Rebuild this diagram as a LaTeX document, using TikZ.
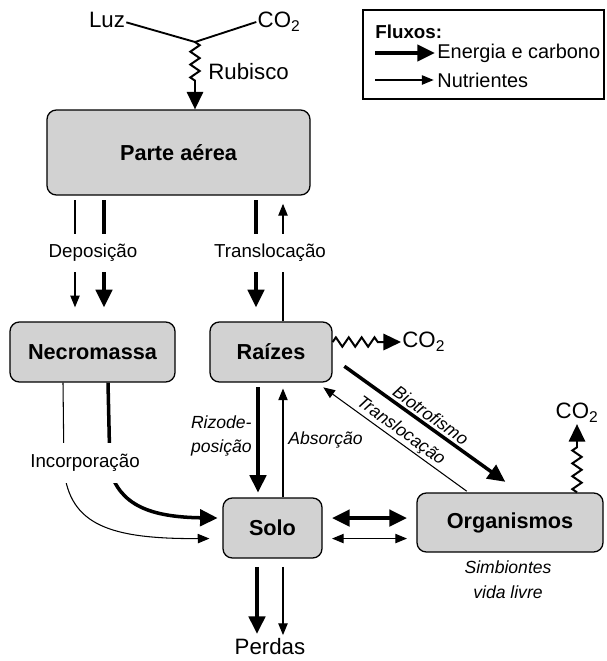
\documentclass[tikz,border=0pt]{standalone}
\usepackage{fontspec}
\setmainfont{Liberation Sans}
\usetikzlibrary{arrows.meta,decorations.pathmorphing}

\begin{document}
\begin{tikzpicture}[x=0.03cm,y=-0.03cm,
        box/.style={rectangle,draw,line width=1.1pt,rounded corners=8pt,
                    fill=gray!35,font=\fontsize{18.5}{22}\selectfont\bfseries},
        cflow/.style={line width=3pt,>={Triangle[length=15pt,width=14pt]},->},
        nflow/.style={line width=0.9pt,>={Triangle[length=10pt,width=8pt]},->},
        lbl/.style={inner sep=1pt,font=\fontsize{16}{19}\selectfont},
        big/.style={inner sep=1pt,font=\fontsize{19}{22}\selectfont},
        ilbl/.style={inner sep=1pt,align=right,font=\fontsize{15}{21}\selectfont\itshape},
        gap/.style={fill=white,inner xsep=2pt,inner ysep=9pt},
        wavy/.style={line width=1.7pt,>={Triangle[length=15pt,width=14pt]},->,
                     decorate,decoration={zigzag,segment length=11pt,amplitude=4pt,post length=19pt}}]
      \useasboundingbox (0,0) rectangle (607,661);
      %% -- compartments --------------------------------------
      \node[box,minimum width=7.89cm,minimum height=2.55cm](pa)     at(178.5,152.5){Parte aérea};
      \node[box,minimum width=4.95cm,minimum height=1.8cm] (necro)  at(92.5,352){Necromassa};
      \node[box,minimum width=3.66cm,minimum height=1.8cm] (raizes) at(271,352){Raízes};
      \node[box,minimum width=2.97cm,minimum height=1.8cm] (solo)   at(272.5,528){Solo};
      \node[box,minimum width=5.58cm,minimum height=1.77cm](org)    at(510,522.5){Organismos};
      %% -- fixation on top -----------------------------------
      \node[big](luz)  at(107,20){Luz};
      \node[big](co2a) at(279,22){CO\textsubscript{2}};
      \coordinate (fix) at (195,42);
      \draw[line width=1.6pt] ([yshift=-2pt]luz.east) -- (fix) -- (co2a.west);
      \draw[wavy] (fix) -- (pa.north -| fix);
      \node[big,anchor=west](rub) at(207,72){Rubisco};
      %% -- Parte aerea -> Necromassa / Raizes ----------------
      \draw[nflow,shorten <=4pt,shorten >=12pt] (pa.south -| 75,0) -- (necro.north -| 75,0);
      \draw[cflow,shorten <=4pt,shorten >=12pt] (pa.south -| 104,0) -- (necro.north -| 104,0);
      \draw[cflow,shorten <=4pt,shorten >=12pt] (pa.south -| 256,0) -- (raizes.north -| 256,0);
      \draw[nflow,shorten >=7pt] (raizes.north -| 283,0) -- (pa.south -| 283,0);
      \node[lbl,gap](dep) at(93,253){Deposição};
      \node[lbl,gap](tra) at(270,253){Translocação};
      %% -- Necromassa -> Solo --------------------------------
      \draw[nflow] (necro.south -| 63,0) -- (64,470)
            .. controls (70,525) and (110,539) .. ([xshift=-11pt,yshift=-9pt]solo.west);
      \draw[cflow] (necro.south -| 108,0) -- (110,470)
            .. controls (120,505) and (150,517) .. ([xshift=-4pt,yshift=8.5pt]solo.west);
      \node[lbl,gap,inner ysep=10pt](inc) at(85,463){Incorporação};
      %% -- Raizes <-> Solo -----------------------------------
      \draw[cflow,shorten <=4pt,shorten >=4pt] (raizes.south -| 258,0) -- (solo.north -| 258,0);
      \draw[nflow,shorten >=5pt] (solo.north -| 283,0) -- (raizes.south -| 283,0);
      \node[ilbl,anchor=east](rizo) at(253,436){Rizode-\\posição};
      \node[ilbl,anchor=west](abs)  at(287,440){Absorção};
      %% -- respiration ---------------------------------------
      \node[big,anchor=west](co2r) at(401,342){CO\textsubscript{2}};
      \draw[wavy] ([yshift=8.5pt]raizes.east) -- (co2r.west);
      \node[big](co2o) at(577,413){CO\textsubscript{2}};
      \draw[wavy] (org.north -| co2o) -- (co2o.south);
      %% -- Raizes <-> Organismos -----------------------------
      \draw[cflow] ([xshift=10pt,yshift=14pt]raizes.south east) -- ([xshift=-4pt,yshift=9pt]org.north)
            node[midway,sloped,above,ilbl,inner sep=2pt]{Biotrofismo};
      \draw[nflow,<-] ([xshift=-8pt,yshift=-4pt]raizes.south east) -- ([xshift=43pt,yshift=1pt]org.north west)
            node[midway,sloped,above,ilbl,inner sep=1pt]{Translocação};
      \node[ilbl,align=center](simb) at(508,580){Simbiontes\\vida livre};
      %% -- Solo <-> Organismos, losses -----------------------
      \draw[cflow,<->,shorten <=8pt,shorten >=8pt] ([yshift=8.5pt]solo.east) -- ([yshift=8.5pt]solo.east -| org.west);
      \draw[nflow,<->,shorten <=8pt,shorten >=8pt] ([yshift=-9pt]solo.east) -- ([yshift=-9pt]solo.east -| org.west);
      \node[big](perdas) at(270,647){Perdas};
      \draw[cflow,shorten <=7pt,shorten >=3pt] (solo.south -| 257,0) -- (perdas.north -| 257,0);
      \draw[nflow,shorten <=7pt,shorten >=2pt] (solo.south -| 283,0) -- (perdas.north -| 283,0);
      %% -- legend --------------------------------------------
      \node[draw,line width=1.1pt,minimum width=7.23cm,minimum height=2.67cm](legend) at(483.5,54.5){};
      \node[lbl,anchor=west,font=\fontsize{16}{19}\selectfont\bfseries](fluxos) at(374,32){Fluxos:};
      \node[lbl,anchor=west,font=\fontsize{17}{20}\selectfont](keyc) at(436,53){Energia e carbono};
      \node[lbl,anchor=west,font=\fontsize{17}{20}\selectfont](keyn) at(436,80){Nutrientes};
      \draw[cflow] ([xshift=-52pt]keyc.west) -- ([xshift=-1pt]keyc.west);
      \draw[nflow] ([xshift=-52pt]keyn.west) -- ([xshift=-2pt]keyn.west);
    \end{tikzpicture}
\end{document}
